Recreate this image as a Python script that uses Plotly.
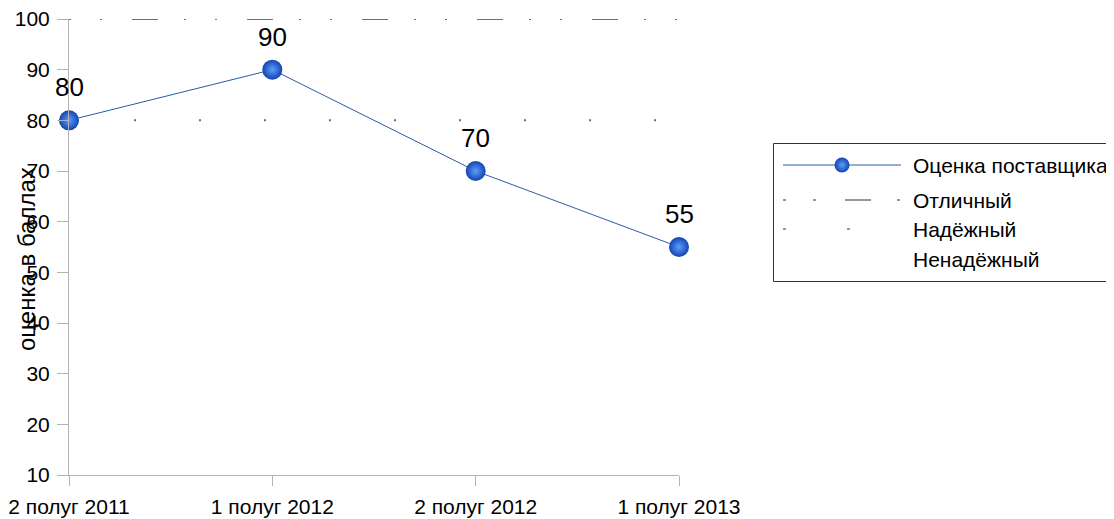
import plotly.graph_objects as go

# ---- data ----
categories = ["2 полуг 2011", "1 полуг 2012", "2 полуг 2012", "1 полуг 2013"]
supplier_score = [80, 90, 70, 55]
excellent = [100, 100, 100, 100]
reliable = [80, 80, 80, 80]
series_names = ["Оценка поставщика", "Отличный", "Надёжный", "Ненадёжный"]
y_ticks = [10, 20, 30, 40, 50, 60, 70, 80, 90, 100]

W, H = 1114, 519
OFF = 8  # page body margin of the browser
FONT = "Liberation Sans, Arial, sans-serif"
AXIS_COL = "#b3b3b3"
LINE_COL = "#2a5ca6"
MARK_CENTER = "#5c9dff"
MARK_EDGE = "#1344b0"
GREY = "#6e6e6e"
DASH_EXC = "2px,29px,2px,30px,26px,26px"
DASH_REL = "2px,63px"
DASH_EXC_LEG = "3px,27px,3px,29px,26px,26px"
DASH_REL_LEG = "3px,61px"

xs = list(range(len(categories)))
fig = go.Figure()

fig.add_trace(go.Scatter(x=xs, y=excellent, mode="lines", showlegend=False,
                         line=dict(color=GREY, width=2, dash=DASH_EXC), cliponaxis=False))
fig.add_trace(go.Scatter(x=xs, y=reliable, mode="lines", showlegend=False,
                         line=dict(color=GREY, width=2, dash=DASH_REL), cliponaxis=False))
fig.add_trace(go.Scatter(x=xs, y=supplier_score, mode="lines+markers", showlegend=False,
                         line=dict(color=LINE_COL, width=1),
                         marker=dict(size=20, color=MARK_EDGE, line=dict(width=0),
                                     gradient=dict(type="radial", color=MARK_CENTER)),
                         cliponaxis=False))

# data labels
for xi, v in zip(xs, supplier_score):
    fig.add_annotation(x=xi, y=v, xref="x", yref="y", text=str(v), showarrow=False,
                       yshift=33, font=dict(size=26, color="black", family=FONT))

# ---- custom legend on a pixel overlay (screen coordinates) ----
lx0, lx1 = 783, 901
rows_y = [165, 200, 229, 259]
fig.add_trace(go.Scatter(x=[lx0, lx1], y=[rows_y[0]] * 2, xaxis="x2", yaxis="y2", mode="lines",
                         line=dict(color=LINE_COL, width=1), showlegend=False, hoverinfo="skip"))
fig.add_trace(go.Scatter(x=[842], y=[rows_y[0]], xaxis="x2", yaxis="y2", mode="markers",
                         marker=dict(size=15, color=MARK_EDGE, line=dict(width=0),
                                     gradient=dict(type="radial", color=MARK_CENTER)),
                         showlegend=False, hoverinfo="skip"))
fig.add_trace(go.Scatter(x=[lx0, lx1], y=[rows_y[1]] * 2, xaxis="x2", yaxis="y2", mode="lines",
                         line=dict(color="#333333", width=1, dash=DASH_EXC_LEG), showlegend=False,
                         hoverinfo="skip"))
fig.add_trace(go.Scatter(x=[lx0, lx1], y=[rows_y[2]] * 2, xaxis="x2", yaxis="y2", mode="lines",
                         line=dict(color="#333333", width=1, dash=DASH_REL_LEG), showlegend=False,
                         hoverinfo="skip"))
for name, ry in zip(series_names, rows_y):
    fig.add_annotation(x=911, y=ry, xref="x2", yref="y2", text=name, showarrow=False,
                       xanchor="left", yanchor="middle",
                       font=dict(size=21, color="black", family=FONT))
fig.add_shape(type="rect", xref="x2", yref="y2", x0=773.5, x1=1130, y0=143.5, y1=281.5,
              line=dict(color="#333333", width=1), fillcolor="rgba(0,0,0,0)")

# y axis title
fig.add_annotation(x=26, y=259, xref="x2", yref="y2", text="оценка в баллах", showarrow=False,
                   textangle=-90, font=dict(size=24, color="black", family=FONT))

fig.update_layout(
    width=W, height=H, margin=dict(l=0, r=0, t=0, b=0, pad=0, autoexpand=False),
    paper_bgcolor="white", plot_bgcolor="rgba(0,0,0,0)",
    font=dict(family=FONT, size=21, color="black"),
    showlegend=False,
    xaxis=dict(domain=[(69 - OFF) / W, (679 - OFF) / W], range=[0, 3], tickmode="array",
               tickvals=xs, ticktext=categories, showgrid=False, zeroline=False, showline=True,
               linecolor=AXIS_COL, linewidth=1, ticks="outside", ticklen=10, automargin=False,
               ticklabelstandoff=3, ticklabeloverflow="allow",
               tickcolor=AXIS_COL, tickfont=dict(size=21, family=FONT, color="black")),
    yaxis=dict(domain=[(H - (475 - OFF)) / H, (H - (19 - OFF)) / H], range=[10, 100],
               tickmode="array", tickvals=y_ticks,
               showgrid=False, zeroline=False, showline=True, linecolor=AXIS_COL, linewidth=1,
               ticks="outside", ticklen=11, tickcolor=AXIS_COL, automargin=False,
               ticklabelstandoff=3, ticklabeloverflow="allow",
               tickfont=dict(size=21, family=FONT, color="black")),
    xaxis2=dict(domain=[0, 1], range=[OFF, W + OFF], visible=False, anchor="y2",
                fixedrange=True, automargin=False),
    yaxis2=dict(domain=[0, 1], range=[H + OFF, OFF], visible=False, anchor="x2",
                fixedrange=True, automargin=False),
)

fig.write_html("out.html")
